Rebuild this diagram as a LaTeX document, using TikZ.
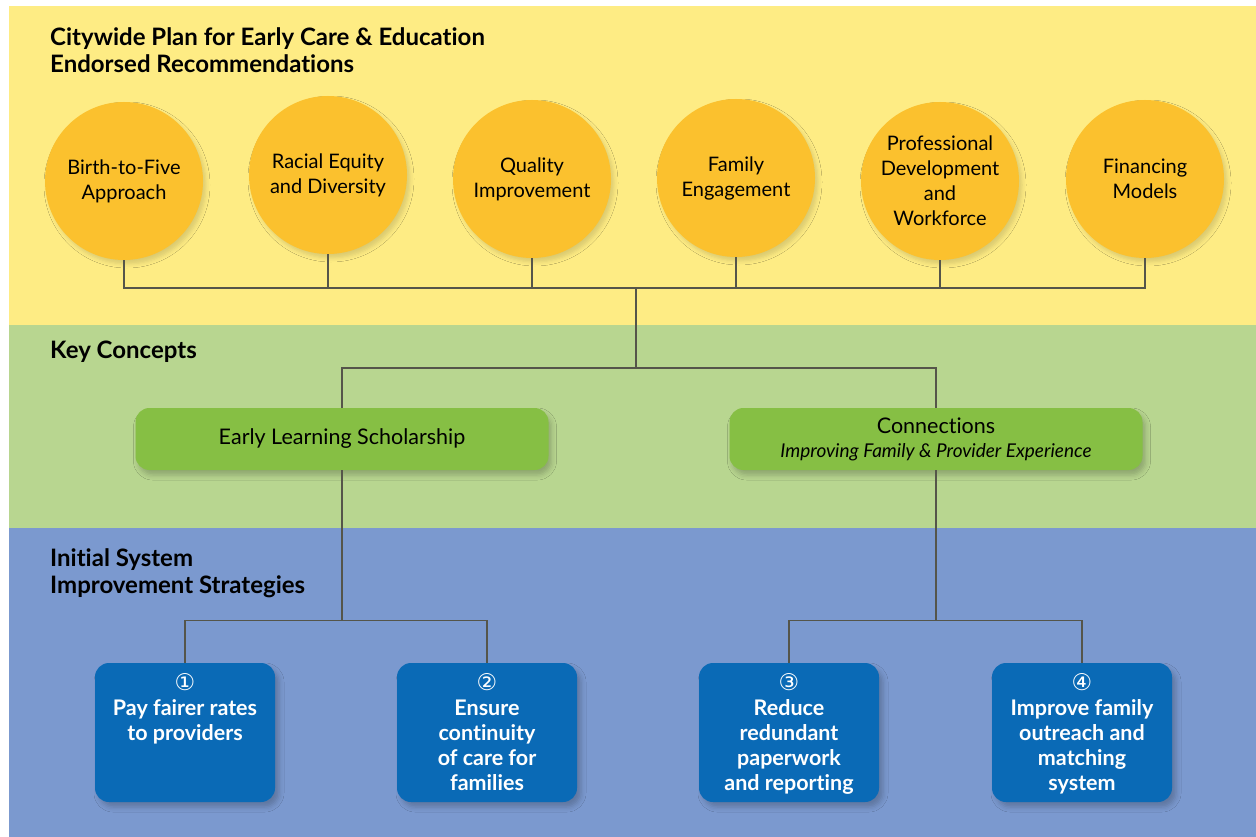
\documentclass[tikz,border=0pt]{standalone}
\usepackage{fontspec}
\setmainfont{Lato}[Ligatures=NoCommon]
\newfontfamily\numfont{DejaVu Sans}
\usetikzlibrary{shadows.blur}

\definecolor{bandyellow}{HTML}{FEEC84}
\definecolor{bandgreen}{HTML}{B8D690}
\definecolor{bandblue}{HTML}{7B99CF}
\definecolor{recgold}{HTML}{FBC12E}
\definecolor{keygreen}{HTML}{86BF44}
\definecolor{stratblue}{HTML}{0A6AB6}
\definecolor{linkgray}{HTML}{55554A}

\begin{document}
\begin{tikzpicture}[x=1pt,y=-1pt]
	\tikzstyle{heading}=[anchor=north west,inner sep=0pt,align=left,font=\fontsize{24}{27}\selectfont\bfseries]
	\tikzstyle{rec}=[circle,fill=recgold,minimum size=158pt,inner sep=0pt,align=center,font=\fontsize{20}{25}\selectfont,blur shadow={shadow xshift=3pt,shadow yshift=-4pt,shadow blur radius=4pt,shadow opacity=14}]
	\tikzstyle{concept}=[rectangle,rounded corners=14pt,fill=keygreen,minimum width=413pt,minimum height=62pt,align=center,font=\fontsize{21.5}{24}\selectfont,blur shadow={shadow xshift=3pt,shadow yshift=-5pt,shadow blur radius=5pt,shadow opacity=22}]
	\tikzstyle{strategy}=[rectangle,rounded corners=14pt,fill=stratblue,minimum width=180pt,minimum height=139pt,blur shadow={shadow xshift=4pt,shadow yshift=-5pt,shadow blur radius=5pt,shadow opacity=22}]
	\tikzstyle{stext}=[anchor=north,inner sep=0pt,align=center,text=white,font=\fontsize{21.5}{25}\selectfont\bfseries]
	\tikzstyle{link}=[draw=linkgray,line width=1.2pt]
	\useasboundingbox (0,0) rectangle (1256,837);
	% background bands
	\fill[bandyellow] (9,6) rectangle (1256,325);
	\fill[bandgreen] (9,325) rectangle (1256,528);
	\fill[bandblue] (9,528) rectangle (1256,837);
	\node[heading] (h1) at (50,27) {Citywide Plan for Early Care \& Education\\Endorsed Recommendations};
	\node[heading] (h2) at (50,341) {Key Concepts};
	\node[heading] (h3) at (50,548) {Initial System\\Improvement Strategies};
	% recommendations
	\node[rec] (r1) at (124,181) {Birth-to-Five\\Approach};
	\node[rec] (r2) at (328,175) {Racial Equity\\and Diversity};
	\node[rec] (r3) at (532,179) {Quality\\Improvement};
	\node[rec] (r4) at (736,178) {Family\\Engagement};
	\node[rec] (r5) at (940,181) {Professional\\Development\\and\\Workforce};
	\node[rec] (r6) at (1145,179) {Financing\\Models};
	% key concepts
	\node[concept] (k1) at (342,439) {Early Learning Scholarship};
	\node[concept] (k2) at (936,439) {Connections\\{\fontsize{19}{22}\selectfont\itshape Improving Family \& Provider Experience}};
	% strategies
	\node[strategy] (s1) at (185,732.5) {};
	\node[strategy] (s2) at (487,732.5) {};
	\node[strategy] (s3) at (789,732.5) {};
	\node[strategy] (s4) at (1082,732.5) {};
	\node[stext] (s1t) at ([yshift=-11pt]s1.north) {{\numfont\mdseries\fontsize{23}{20}\selectfont ①}\\Pay fairer rates\\to providers};
	\node[stext] (s2t) at ([yshift=-11pt]s2.north) {{\numfont\mdseries\fontsize{23}{20}\selectfont ②}\\Ensure\\continuity\\of care for\\families};
	\node[stext] (s3t) at ([yshift=-11pt]s3.north) {{\numfont\mdseries\fontsize{23}{20}\selectfont ③}\\Reduce\\redundant\\paperwork\\and reporting};
	\node[stext] (s4t) at ([yshift=-11pt]s4.north) {{\numfont\mdseries\fontsize{23}{20}\selectfont ④}\\Improve family\\outreach and\\matching\\system};
	% connectors
	\coordinate (top) at (636,288);
	\coordinate (split) at (636,368);
	\foreach \r in {r1,r2,r3,r4,r5,r6}
		\draw[link] (\r.south) |- (top);
	\draw[link] (top) -- (split) -| (k1.north);
	\draw[link] (split) -| (k2.north);
	\path (k1.south) ++(0,150) coordinate (fork1);
	\path (k2.south) ++(0,150) coordinate (fork2);
	\draw[link] (k1.south) -- (fork1) -| (s1.north);
	\draw[link] (fork1) -| (s2.north);
	\draw[link] (k2.south) -- (fork2) -| (s3.north);
	\draw[link] (fork2) -| (s4.north);
\end{tikzpicture}
\end{document}
